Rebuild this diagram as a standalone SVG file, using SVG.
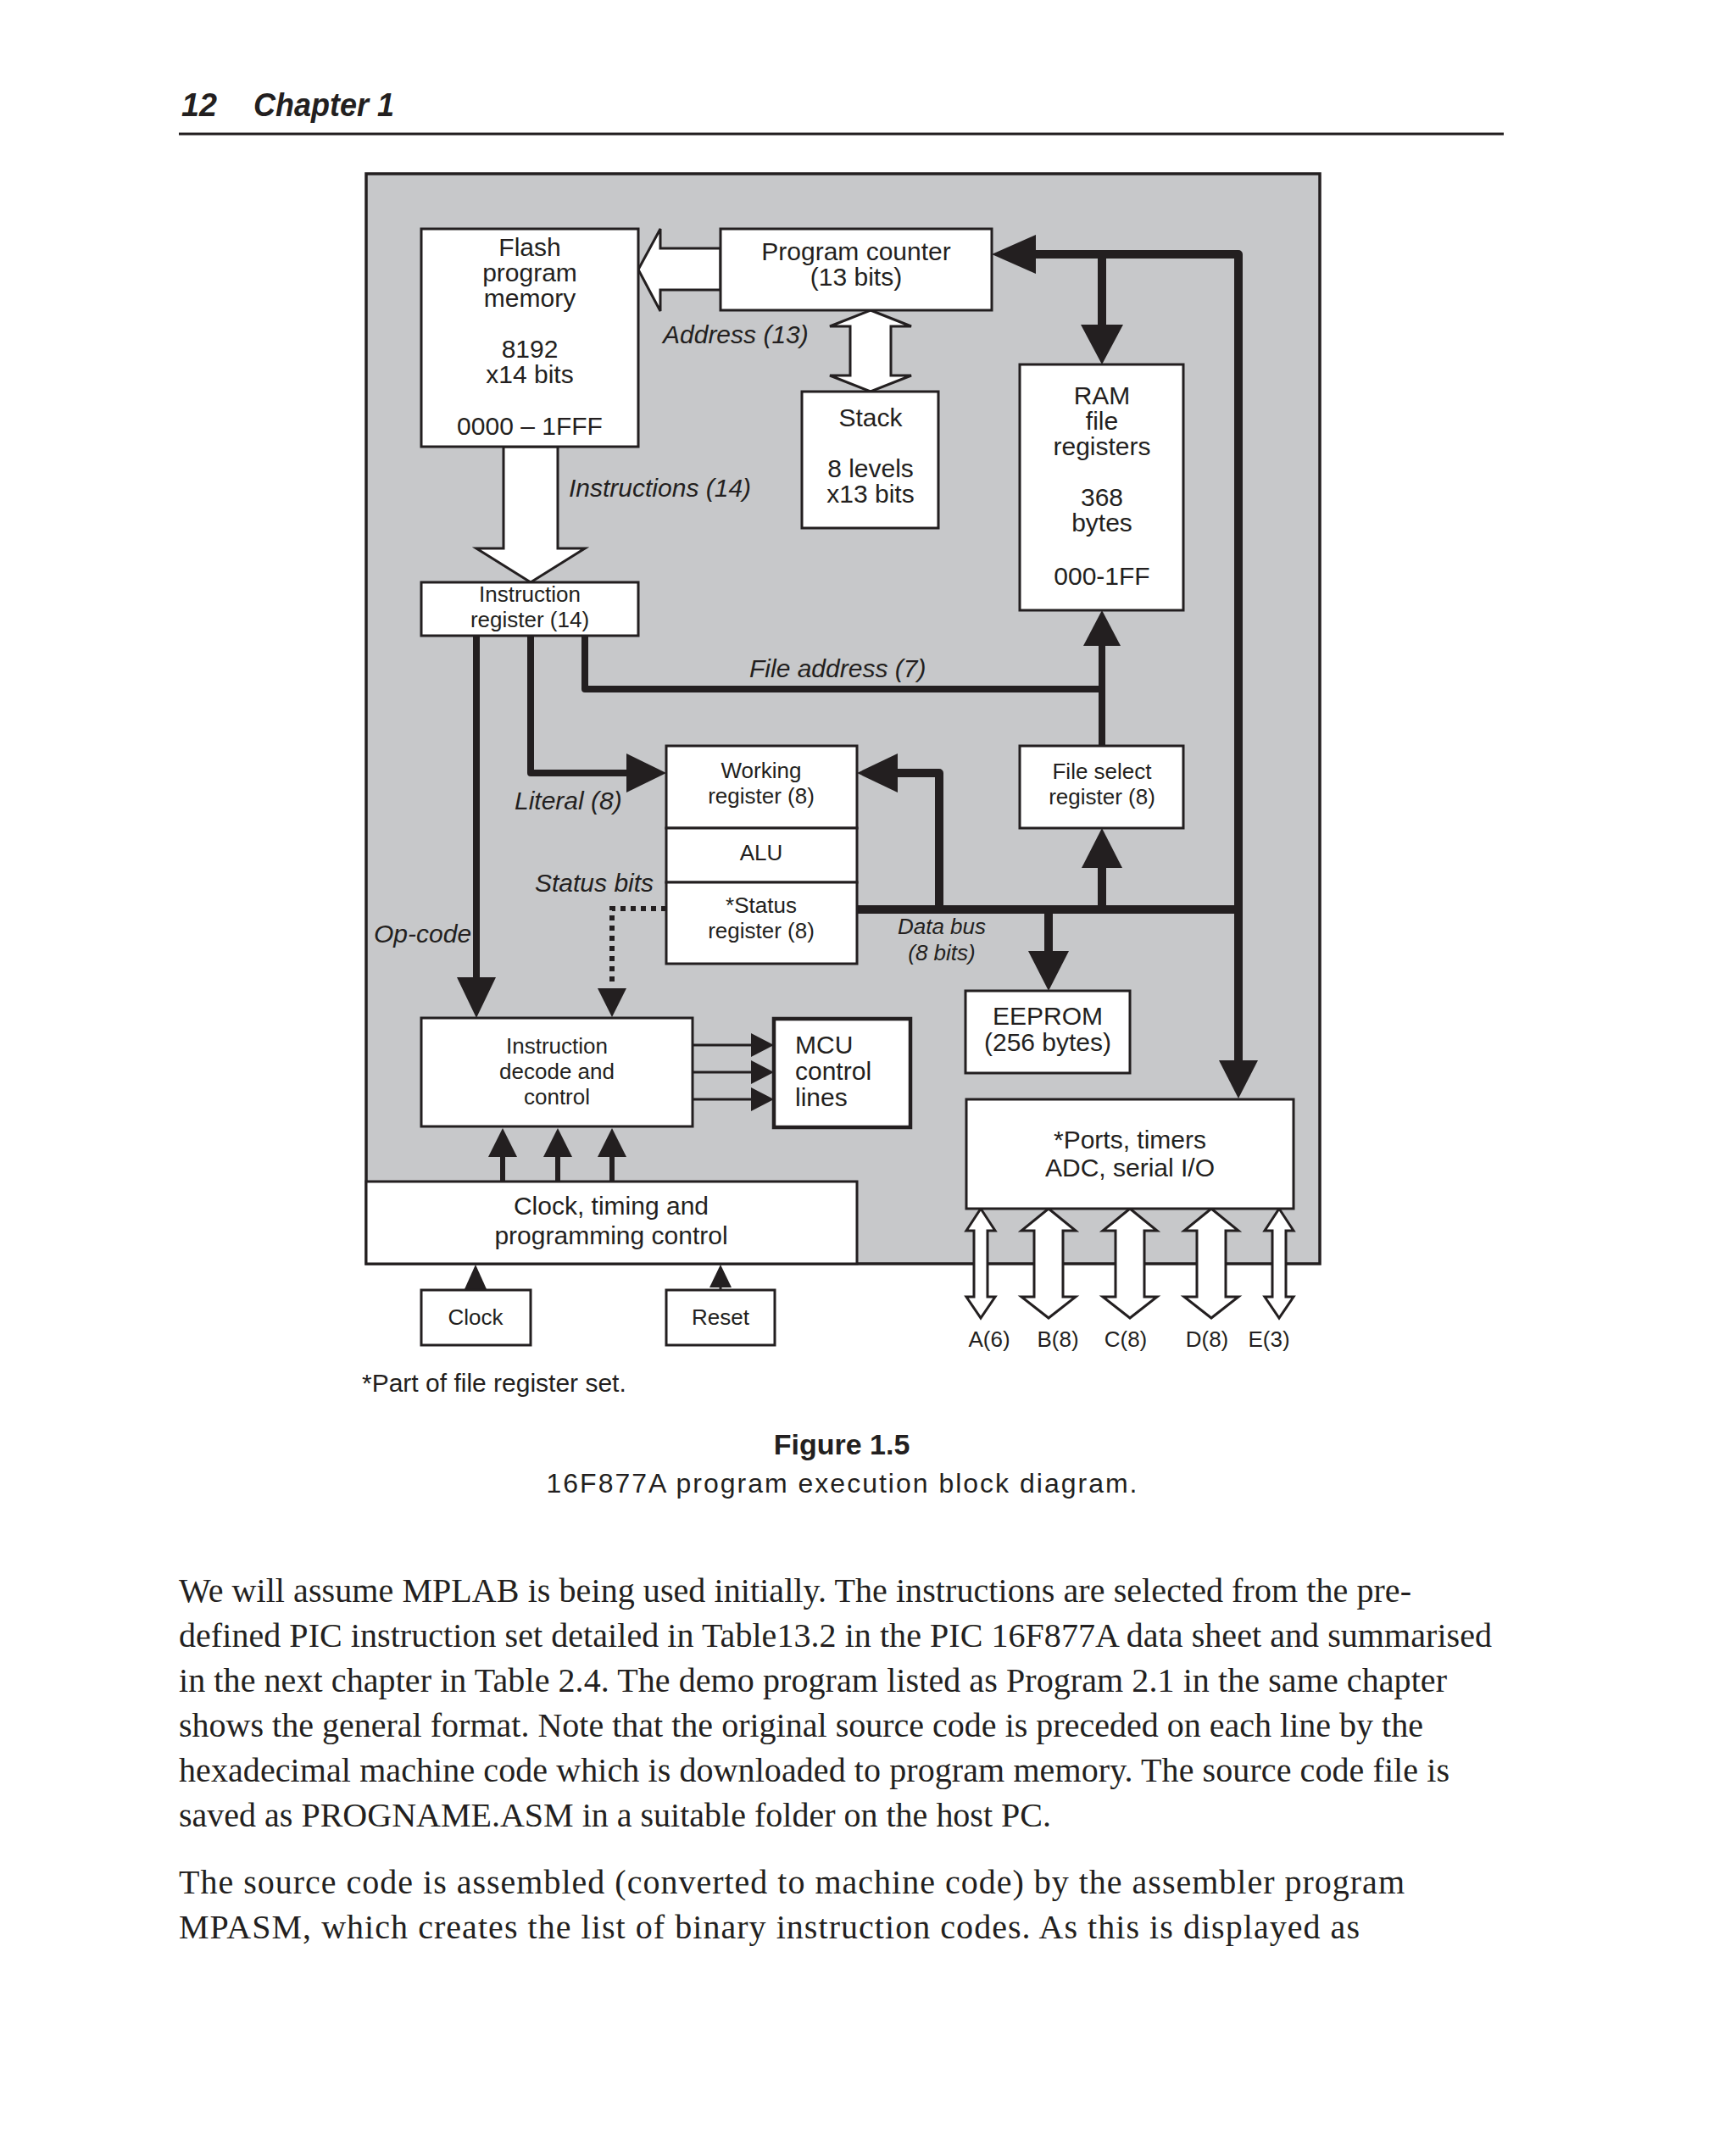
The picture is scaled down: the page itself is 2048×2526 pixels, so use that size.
<svg xmlns="http://www.w3.org/2000/svg" width="2048" height="2526" viewBox="0 0 2048 2526">
<style>
.bg{fill:#ffffff}
.panel{fill:#c7c8ca;stroke:#231f20;stroke-width:3.5}
.box{fill:#ffffff;stroke:#231f20;stroke-width:3}
.boxb{fill:#ffffff;stroke:#231f20;stroke-width:4.5}
.t{font-family:'Liberation Sans',Arial,sans-serif;font-size:30px;fill:#231f20;text-anchor:middle}
.s{font-size:26px}
.i{font-style:italic}
.l{text-anchor:start}
.bus{fill:none;stroke:#231f20;stroke-width:10;stroke-linejoin:round}
.mid{fill:none;stroke:#231f20;stroke-width:8;stroke-linejoin:round}
.thin{fill:none;stroke:#231f20;stroke-width:3}
.sm{fill:none;stroke:#231f20;stroke-width:6}
.dot{fill:none;stroke:#231f20;stroke-width:6;stroke-dasharray:6 6}
.head{fill:#231f20}
.hollow{fill:#ffffff;stroke:#231f20;stroke-width:3;stroke-linejoin:miter}
.hdr{font-family:'Liberation Sans',Arial,sans-serif;font-size:38px;font-weight:bold;font-style:italic;fill:#231f20}
.cap{font-family:'Liberation Sans',Arial,sans-serif;fill:#231f20;text-anchor:middle}
.body{font-family:'Liberation Serif','Times New Roman',serif;font-size:40px;fill:#231f20}
</style>
<rect class="bg" x="0" y="0" width="2048" height="2526"/>

<g id="page-header">
<text class="hdr" x="214" y="137" textLength="42" lengthAdjust="spacingAndGlyphs">12</text>
<text class="hdr" x="299" y="137" textLength="166" lengthAdjust="spacingAndGlyphs">Chapter 1</text>
<line x1="211" y1="158" x2="1774" y2="158" stroke="#231f20" stroke-width="3"/>
</g>

<g id="panel">
<rect class="panel" x="432" y="205" width="1125" height="1286"/>
</g>

<g id="connectors">
<!-- program counter / RAM / ports bus -->
<path class="bus" d="M1461,1254 V300 H1218"/>
<polygon class="head" points="1170,300 1222,277 1222,323"/>
<polygon class="head" points="1461,1296 1438,1251 1484,1251"/>
<path class="bus" d="M1300,300 V386"/>
<polygon class="head" points="1300,430 1275,383 1325,383"/>
<!-- FSR to RAM -->
<path class="mid" d="M1300,880 V758"/>
<polygon class="head" points="1300,720 1278,762 1322,762"/>
<!-- file address -->
<path class="mid" d="M690,750 V813 H1300"/>
<!-- literal -->
<path class="mid" d="M626,750 V912 H742"/>
<polygon class="head" points="786,912 739,889 739,935"/>
<!-- op-code -->
<path class="mid" d="M562,750 V1156"/>
<polygon class="head" points="562,1201 539,1153 585,1153"/>
<!-- status bits -->
<path class="dot" d="M786,1072 H722 V1164"/>
<polygon class="head" points="722,1200 705,1166 739,1166"/>
<!-- data bus -->
<path class="bus" d="M1011,1073 H1461"/>
<path class="bus" d="M1108,1073 V912 H1056"/>
<polygon class="head" points="1011,912 1059,889 1059,935"/>
<path class="bus" d="M1300,1073 V1020"/>
<polygon class="head" points="1300,977 1276,1024 1324,1024"/>
<path class="bus" d="M1237,1073 V1126"/>
<polygon class="head" points="1237,1169 1213,1122 1261,1122"/>
<!-- decode to MCU -->
<path class="thin" d="M817,1233 H890 M817,1265 H890 M817,1297 H890"/>
<polygon class="head" points="913,1233 886,1219 886,1247"/>
<polygon class="head" points="913,1265 886,1251 886,1279"/>
<polygon class="head" points="913,1297 886,1283 886,1311"/>
<!-- clock timing to decode -->
<path class="sm" d="M593,1394 V1362 M658,1394 V1362 M722,1394 V1362"/>
<polygon class="head" points="593,1331 576,1365 610,1365"/>
<polygon class="head" points="658,1331 641,1365 675,1365"/>
<polygon class="head" points="722,1331 705,1365 739,1365"/>
<!-- clock / reset inputs -->
<polygon class="head" points="561,1492 548,1521 574,1521"/>
<path class="thin" d="M850,1516 V1522"/>
<polygon class="head" points="850,1492 837,1519 863,1519"/>
<!-- hollow arrows -->
<polygon class="hollow" points="753,318 779,270 779,293 850,293 850,342 779,342 779,367"/>
<polygon class="hollow" points="594,527 658,527 658,647 690,647 626,687 562,647 594,647"/>
<polygon class="hollow" points="1027,366 1075,385 1051,385 1051,443 1075,443 1027,462 979,443 1003,443 1003,385 979,385"/>
<!-- port arrows -->
<polygon class="hollow" points="1157,1426 1174,1452 1165,1452 1165,1530 1174,1530 1157,1555 1140,1530 1149,1530 1149,1452 1140,1452"/>
<polygon class="hollow" points="1237,1426 1269,1452 1254,1452 1254,1530 1269,1530 1237,1555 1205,1530 1220,1530 1220,1452 1205,1452"/>
<polygon class="hollow" points="1333,1426 1365,1452 1350,1452 1350,1530 1365,1530 1333,1555 1301,1530 1316,1530 1316,1452 1301,1452"/>
<polygon class="hollow" points="1429,1426 1461,1452 1446,1452 1446,1530 1461,1530 1429,1555 1397,1530 1412,1530 1412,1452 1397,1452"/>
<polygon class="hollow" points="1509,1426 1526,1452 1517,1452 1517,1530 1526,1530 1509,1555 1492,1530 1501,1530 1501,1452 1492,1452"/>
</g>

<g id="flash">
<rect class="box" x="497" y="270" width="256" height="257"/>
<text class="t" x="625" y="302">Flash</text>
<text class="t" x="625" y="332">program</text>
<text class="t" x="625" y="362">memory</text>
<text class="t" x="625" y="422">8192</text>
<text class="t" x="625" y="452">x14 bits</text>
<text class="t" x="625" y="513">0000 – 1FFF</text>
</g>

<g id="program-counter">
<rect class="box" x="850" y="270" width="320" height="96"/>
<text class="t" x="1010" y="307">Program counter</text>
<text class="t" x="1010" y="337">(13 bits)</text>
</g>

<g id="stack">
<rect class="box" x="946" y="462" width="161" height="161"/>
<text class="t" x="1027" y="503">Stack</text>
<text class="t" x="1027" y="563">8 levels</text>
<text class="t" x="1027" y="593">x13 bits</text>
</g>

<g id="ram">
<rect class="box" x="1203" y="430" width="193" height="290"/>
<text class="t" x="1300" y="477">RAM</text>
<text class="t" x="1300" y="507">file</text>
<text class="t" x="1300" y="537">registers</text>
<text class="t" x="1300" y="597">368</text>
<text class="t" x="1300" y="627">bytes</text>
<text class="t" x="1300" y="690">000-1FF</text>
</g>

<g id="instruction-register">
<rect class="box" x="497" y="687" width="256" height="63"/>
<text class="t s" x="625" y="710">Instruction</text>
<text class="t s" x="625" y="740">register (14)</text>
</g>

<g id="working-register">
<rect class="box" x="786" y="880" width="225" height="97"/>
<text class="t s" x="898" y="918">Working</text>
<text class="t s" x="898" y="948">register (8)</text>
</g>

<g id="alu">
<rect class="box" x="786" y="977" width="225" height="64"/>
<text class="t s" x="898" y="1015">ALU</text>
</g>

<g id="status-register">
<rect class="box" x="786" y="1041" width="225" height="96"/>
<text class="t s" x="898" y="1077">*Status</text>
<text class="t s" x="898" y="1107">register (8)</text>
</g>

<g id="file-select-register">
<rect class="box" x="1203" y="880" width="193" height="97"/>
<text class="t s" x="1300" y="919">File select</text>
<text class="t s" x="1300" y="949">register (8)</text>
</g>

<g id="eeprom">
<rect class="box" x="1139" y="1169" width="194" height="97"/>
<text class="t" x="1236" y="1209">EEPROM</text>
<text class="t" x="1236" y="1240">(256 bytes)</text>
</g>

<g id="ports">
<rect class="box" x="1140" y="1297" width="386" height="129"/>
<text class="t" x="1333" y="1355">*Ports, timers</text>
<text class="t" x="1333" y="1388">ADC, serial I/O</text>
</g>

<g id="instruction-decode">
<rect class="box" x="497" y="1201" width="320" height="128"/>
<text class="t s" x="657" y="1243">Instruction</text>
<text class="t s" x="657" y="1273">decode and</text>
<text class="t s" x="657" y="1303">control</text>
</g>

<g id="mcu-control-lines">
<rect class="boxb" x="913" y="1202" width="161" height="128"/>
<text class="t l" x="938" y="1243">MCU</text>
<text class="t l" x="938" y="1274">control</text>
<text class="t l" x="938" y="1305">lines</text>
</g>

<g id="clock-timing">
<rect class="box" x="432" y="1394" width="579" height="97"/>
<text class="t" x="721" y="1433">Clock, timing and</text>
<text class="t" x="721" y="1468">programming control</text>
</g>

<g id="clock">
<rect class="box" x="497" y="1522" width="129" height="65"/>
<text class="t s" x="561" y="1563">Clock</text>
</g>

<g id="reset">
<rect class="box" x="786" y="1522" width="128" height="65"/>
<text class="t s" x="850" y="1563">Reset</text>
</g>

<g id="labels">
<text class="t i l" x="782" y="405">Address (13)</text>
<text class="t i l" x="671" y="586">Instructions (14)</text>
<text class="t i l" x="884" y="799">File address (7)</text>
<text class="t i l" x="607" y="955">Literal (8)</text>
<text class="t i l" x="631" y="1052">Status bits</text>
<text class="t i l" x="441" y="1112">Op-code</text>
<text class="t s i" x="1111" y="1102">Data bus</text>
<text class="t s i" x="1111" y="1133">(8 bits)</text>
<text class="t s" x="1167" y="1589">A(6)</text>
<text class="t s" x="1248" y="1589">B(8)</text>
<text class="t s" x="1328" y="1589">C(8)</text>
<text class="t s" x="1424" y="1589">D(8)</text>
<text class="t s" x="1497" y="1589">E(3)</text>
<text class="t l" x="427" y="1642">*Part of file register set.</text>
</g>

<g id="caption">
<text class="cap" x="993" y="1716" font-size="34" font-weight="bold">Figure 1.5</text>
<text class="cap" x="993" y="1761" font-size="32" textLength="697">16F877A program execution block diagram.</text>
</g>

<g id="body-text">
<text class="body" x="211" y="1890" textLength="1454">We will assume MPLAB is being used initially. The instructions are selected from the pre-</text>
<text class="body" x="211" y="1943" textLength="1549">defined PIC instruction set detailed in Table13.2 in the PIC 16F877A data sheet and summarised</text>
<text class="body" x="211" y="1996" textLength="1496">in the next chapter in Table 2.4. The demo program listed as Program 2.1 in the same chapter</text>
<text class="body" x="211" y="2049" textLength="1468">shows the general format. Note that the original source code is preceded on each line by the</text>
<text class="body" x="211" y="2102" textLength="1499">hexadecimal machine code which is downloaded to program memory. The source code file is</text>
<text class="body" x="211" y="2155" textLength="1029">saved as PROGNAME.ASM in a suitable folder on the host PC.</text>
<text class="body" x="211" y="2234" textLength="1446">The source code is assembled (converted to machine code) by the assembler program</text>
<text class="body" x="211" y="2287" textLength="1393">MPASM, which creates the list of binary instruction codes. As this is displayed as</text>
</g>
</svg>
